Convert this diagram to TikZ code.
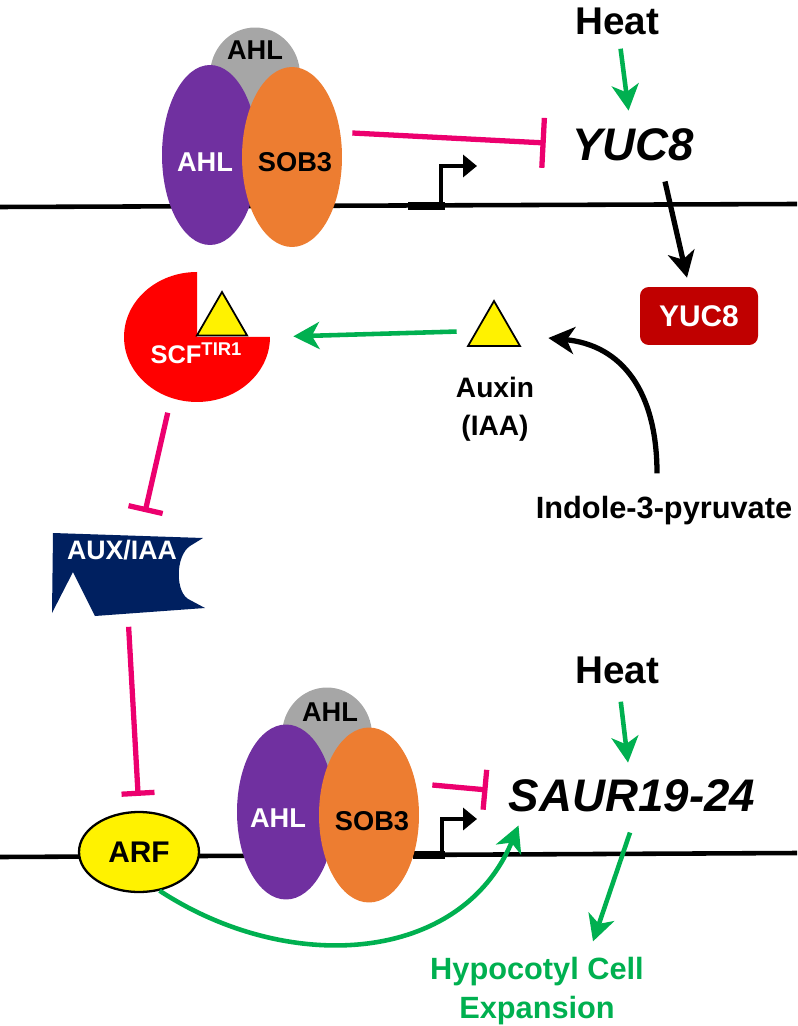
\documentclass[tikz,border=0pt]{standalone}
\usepackage{fontspec}
\newfontfamily\arialfont{Liberation Sans}
\usepackage{tikz}
\usetikzlibrary{arrows.meta}
\usetikzlibrary{shapes.geometric}
\usetikzlibrary{calc}

\definecolor{ahlpurple}{RGB}{112,48,160}
\definecolor{soborange}{RGB}{237,125,49}
\definecolor{ahlgray}{RGB}{166,166,166}
\definecolor{inhpink}{RGB}{236,0,110}
\definecolor{actgreen}{RGB}{0,176,80}
\definecolor{yucred}{RGB}{192,0,0}
\definecolor{auxnavy}{RGB}{0,32,96}

\tikzset{
  dna/.style={line width=2.6pt},
  txt/.style={inner sep=0pt,font=\arialfont\bfseries\fontsize{#1}{#1}\selectfont},
  txt/.default=16,
  gene/.style={inner sep=0pt,font=\arialfont\bfseries\itshape\fontsize{26}{28}\selectfont},
  prot/.style={ellipse,inner sep=0pt},
  tri/.style={regular polygon,regular polygon sides=3,inner sep=0pt,fill=yellow,draw,line width=1pt},
  yucbox/.style={fill=yucred,rounded corners=5pt,minimum width=2.36cm,minimum height=1.16cm,
    text=white,font=\arialfont\bfseries\fontsize{17}{17}\selectfont},
  arfbox/.style={ellipse,fill=yellow,draw,line width=1.3pt,minimum width=2.4cm,minimum height=1.6cm,
    inner sep=0pt,font=\arialfont\bfseries\fontsize{17}{17}\selectfont},
  act/.style={actgreen,line width=2.6pt,-{Stealth[length=0.52cm,width=0.54cm,inset=0.15cm]}},
  blk/.style={black,line width=3pt,-{Stealth[length=0.52cm,width=0.54cm,inset=0.15cm]}},
  inh/.style={inhpink,line width=3pt,-{Bar[width=#1]}},
  inh/.default=0.8cm,
  prom/.style={line width=2.6pt,-{Triangle[length=0.28cm,width=0.44cm]}}
}

\begin{document}
\begin{tikzpicture}[x=0.02cm,y=-0.02cm]
  \useasboundingbox (0,0) rectangle (797,1026);

  % upper gene
  \draw[dna] (0,207) -- (797,204);
  \draw[line width=4.5pt] (408,206) -- (445,206);
  \draw[prom] (441,206) |- (477,166);
  \node[prot,fill=ahlgray,minimum width=1.8cm,minimum height=1.9cm] (ahlG1) at (255,75) {};
  \node[prot,fill=ahlpurple,minimum width=1.92cm,minimum height=3.6cm] (ahlP1) at (210,155) {};
  \node[prot,fill=soborange,minimum width=2cm,minimum height=3.6cm] (sob1) at (292,157) {};
  \node[txt=15.5] (ahlG1t) at (255,50) {AHL};
  \node[txt=15.5,white] (ahlP1t) at (205,162) {AHL};
  \node[txt=15.5] (sob1t) at (295,162) {SOB3};
  \node[txt=22] (heat1) at (617,21) {Heat};
  \node[gene] (yucG) at (633,145) {YUC8};
  \node[yucbox] (yucP) at (699,316) {YUC8};

  % auxin
  \node[tri,minimum size=1.2cm] (auxin) at (494,331) {};
  \node[txt,align=center,font=\arialfont\bfseries\fontsize{16}{21.5}\selectfont] (auxlbl) at (495,409) {Auxin\\(IAA)};
  \node[txt=17.5,anchor=base] (indole) at (664,518) {Indole-3-pyruvate};

  % SCF-TIR1
  \node[prot,minimum width=2.92cm,minimum height=2.6cm] (scf) at (197,337) {};
  \fill[red] (scf.center) -- ++(0,-65) arc[start angle=90,end angle=360,x radius=1.46cm,y radius=1.3cm] -- cycle;
  \node[tri,minimum size=1.16cm] (scfaux) at (222,321) {};
  \node[txt=14.5,white,anchor=base] (scft) at (196,364) {SCF\raisebox{5pt}{\fontsize{10.5}{10.5}\selectfont TIR1}};

  % AUX/IAA
  \fill[auxnavy] (53,533) -- (203,538) -- (190,546) .. controls (175,556) and (175,594) .. (190,600)
    -- (205,608) -- (95,616) -- (73,572) -- (52,613) -- cycle;
  \node[minimum width=3.04cm,minimum height=1.66cm,inner sep=0pt] (auxiaa) at (128,574) {};
  \node[txt=15.2,white] (auxt) at (122,550) {AUX/IAA};

  % lower gene
  \draw[dna] (0,857) -- (797,853);
  \draw[line width=4.5pt] (413,855) -- (445,855);
  \draw[prom] (442,855) |- (477,819);
  \node[arfbox] (arf) at (139,852) {ARF};
  \node[prot,fill=ahlgray,minimum width=1.8cm,minimum height=1.9cm] (ahlG2) at (327,735) {};
  \node[prot,fill=ahlpurple,minimum width=1.96cm,minimum height=3.5cm] (ahlP2) at (286,812) {};
  \node[prot,fill=soborange,minimum width=2cm,minimum height=3.5cm] (sob2) at (369,815) {};
  \node[txt=15.5] (ahlG2t) at (330,712) {AHL};
  \node[txt=15.5,white] (ahlP2t) at (278,818) {AHL};
  \node[txt=15.5] (sob2t) at (372,821) {SOB3};
  \node[txt=22] (heat2) at (617,670) {Heat};
  \node[gene] (saur) at (632,796) {SAUR19-24};
  \node[txt,align=center,text=actgreen,font=\arialfont\bfseries\fontsize{17.5}{22.7}\selectfont] (hypo) at (537,991) {Hypocotyl Cell\\Expansion};

  % connectors
  \draw[act,shorten <=0.28cm,shorten >=0.36cm] (heat1) -- (yucG);
  \draw[inh=1cm] ($(sob1.east)+(10,-24)$) -- ($(yucG.west)+(-26,-2)$);
  \draw[blk] ($(yucG.south)+(32,20)$) -- ($(yucP.north)+(-12,-9)$);
  \draw[blk] ($(indole.north)+(-7,-22)$) .. controls +(0,-83) and +(73,7) .. ($(auxin.east)+(36,7)$);
  \draw[act,shorten <=0.38cm,shorten >=0.46cm] (auxin.west) -- (scf.east);
  \draw[inh=0.7cm,shorten <=0.3cm] (scf.-113) -- ($(auxiaa.north)+(17,-20)$);
  \draw[inh=0.66cm,shorten <=0.22cm,shorten >=0.3cm] (auxiaa.south) -- (arf.north);
  \draw[act] (arf.-62) .. controls +(130,85) and +(-57,138) .. ($(saur.south west)+(10,13)$);
  \draw[act,shorten <=0.36cm,shorten >=0.34cm] (heat2) -- (saur);
  \draw[inh=0.8cm] ($(sob2.east)+(13,-30)$) -- ($(saur.west)+(-21,-6)$);
  \draw[act] ($(saur.south)+(-2,20)$) -- ($(hypo.north)+(56,-15)$);
\end{tikzpicture}
\end{document}
